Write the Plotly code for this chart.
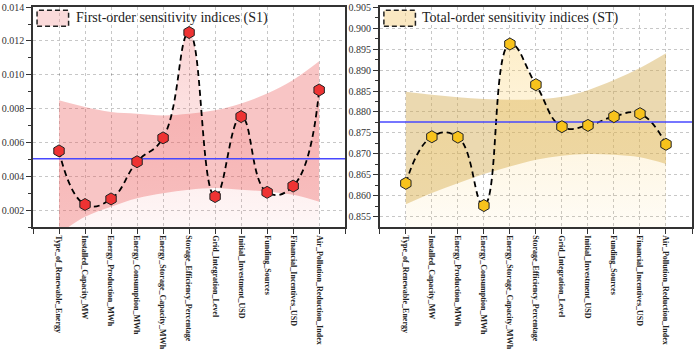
import plotly.graph_objects as go
from plotly.subplots import make_subplots

categories = ["Type_of_Renewable_Energy", "Installed_Capacity_MW", "Energy_Production_MWh",
              "Energy_Consumption_MWh", "Energy_Storage_Capacity_MWh", "Storage_Efficiency_Percentage",
              "Grid_Integration_Level", "Initial_Investment_USD", "Funding_Sources",
              "Financial_Incentives_USD", "Air_Pollution_Reduction_Index"]

s1_values = [0.0055, 0.00233, 0.00266, 0.00486, 0.00627, 0.0125, 0.0028, 0.00753, 0.00305, 0.00342, 0.0091]
st_values = [0.8630, 0.8741, 0.8740, 0.8577, 0.8962, 0.8865, 0.8765, 0.8768, 0.8789, 0.8796, 0.8723]

s1_band_upper = [0.0085, 0.0081, 0.0078, 0.0077, 0.0076, 0.0077, 0.0079, 0.0083, 0.0089, 0.0097, 0.0108]
s1_band_lower = [0.0006, 0.0016, 0.0022, 0.0027, 0.0030, 0.0032, 0.0033, 0.0032, 0.0031, 0.0029, 0.0025]
st_band_upper = [0.8848, 0.8841, 0.8835, 0.8831, 0.8829, 0.8830, 0.8836, 0.8852, 0.8876, 0.8905, 0.8940]
st_band_lower = [0.8580, 0.8607, 0.8630, 0.8652, 0.8670, 0.8686, 0.8696, 0.8700, 0.8698, 0.8692, 0.8676]

s1_ref = 0.00503
st_ref = 0.8776

s1_range = [0.001, 0.01401]
st_range = [0.8526, 0.90501]
s1_ticks = [0.002, 0.004, 0.006, 0.008, 0.010, 0.012, 0.014]
st_ticks = [0.855, 0.860, 0.865, 0.870, 0.875, 0.880, 0.885, 0.890, 0.895, 0.900, 0.905]

legend_labels = ["First-order sensitivity indices (S1)", "Total-order sensitivity indices (ST)"]

x = list(range(len(categories)))
x_range = [-1, len(categories)]

SERIF = "Liberation Serif, Times New Roman, serif"

panels = [
    dict(vals=s1_values, up=s1_band_upper, lo=s1_band_lower, ref=s1_ref, yr=s1_range, ticks=s1_ticks,
         fmt=".3f", band="rgba(235,85,85,0.34)", grad0="rgba(240,100,100,0.03)", grad1="rgba(240,100,100,0.28)",
         mk="#ee3333", sw="rgba(244,150,150,0.35)", label=legend_labels[0]),
    dict(vals=st_values, up=st_band_upper, lo=st_band_lower, ref=st_ref, yr=st_range, ticks=st_ticks,
         fmt=".3f", band="rgba(210,170,80,0.45)", grad0="rgba(250,200,80,0.03)", grad1="rgba(250,200,80,0.30)",
         mk="#f8c31c", sw="rgba(245,205,120,0.45)", label=legend_labels[1]),
]

fig = make_subplots(rows=1, cols=2, horizontal_spacing=0.0526)

for i, p in enumerate(panels):
    col = i + 1
    # confidence band
    fig.add_trace(go.Scatter(x=x, y=p["lo"], mode="lines", line=dict(width=0, shape="spline"),
                             hoverinfo="skip", showlegend=False), row=1, col=col)
    fig.add_trace(go.Scatter(x=x, y=p["up"], mode="lines", line=dict(width=0, shape="spline"),
                             fill="tonexty", fillcolor=p["band"], hoverinfo="skip", showlegend=False),
                  row=1, col=col)
    # smooth dashed curve with gradient fill
    fig.add_trace(go.Scatter(x=x, y=p["vals"], mode="lines",
                             line=dict(color="black", width=1.8, dash="6px,4px", shape="spline", smoothing=1.3),
                             fill="tozeroy",
                             fillgradient=dict(type="vertical", start=p["yr"][0], stop=max(p["vals"]),
                                               colorscale=[[0, p["grad0"]], [1, p["grad1"]]]),
                             showlegend=False), row=1, col=col)
    # reference line
    fig.add_trace(go.Scatter(x=x_range, y=[p["ref"], p["ref"]], mode="lines",
                             line=dict(color="#4848ff", width=1.5), showlegend=False, hoverinfo="skip"),
                  row=1, col=col)
    # markers
    fig.add_trace(go.Scatter(x=x, y=p["vals"], mode="markers",
                             marker=dict(symbol="hexagon", size=12, color=p["mk"],
                                         line=dict(color="#222222", width=1)),
                             showlegend=False), row=1, col=col)

    xa = "x" if col == 1 else "x2"
    ya = "y" if col == 1 else "y2"
    fig.update_xaxes(range=x_range, tickmode="array", tickvals=list(range(-1, len(categories) + 1)),
                     ticktext=[""] + categories + [""], tickangle=90,
                     tickfont=dict(family=SERIF, size=8, color="#222", weight="bold"),
                     ticks="outside", ticklen=5, tickwidth=1.2, tickcolor="#333",
                     showline=True, linecolor="#333", linewidth=1.5, mirror=True,
                     showgrid=True, gridcolor="rgba(0,0,0,0.22)", griddash="dot", gridwidth=1,
                     zeroline=False, ticklabeloverflow="allow", row=1, col=col)
    fig.update_yaxes(range=p["yr"], tickmode="array", tickvals=p["ticks"],
                     ticktext=[format(t, p["fmt"]) for t in p["ticks"]],
                     tickfont=dict(family=SERIF, size=10, color="#333"),
                     ticks="outside", ticklen=5, tickwidth=1.2, tickcolor="#333",
                     minor=dict(ticks="outside", ticklen=3, tickcolor="#333",
                                dtick=(p["ticks"][1] - p["ticks"][0]) / 2, tick0=p["ticks"][0], showgrid=False),
                     showline=True, linecolor="#333", linewidth=1.5, mirror=True,
                     showgrid=True, gridcolor="rgba(0,0,0,0.22)", griddash="dot", gridwidth=1,
                     zeroline=False, ticklabeloverflow="allow", row=1, col=col)

    # legend drawn as swatch + text
    fig.add_shape(type="rect", xref=f"{xa} domain", yref=f"{ya} domain",
                  x0=0.013, x1=0.114, y0=0.913, y1=0.985,
                  fillcolor=p["sw"], line=dict(color="#222", width=1.5, dash="5px,3px"))
    fig.add_annotation(xref=f"{xa} domain", yref=f"{ya} domain", x=0.13, y=0.949,
                       xanchor="left", yanchor="middle", showarrow=False, text=p["label"],
                       font=dict(family=SERIF, size=14, color="#222"))

fig.update_layout(width=696, height=352, margin=dict(l=29, r=2, t=3, b=112),
                  plot_bgcolor="white", paper_bgcolor="white", showlegend=False)

fig.write_html("out.html")
